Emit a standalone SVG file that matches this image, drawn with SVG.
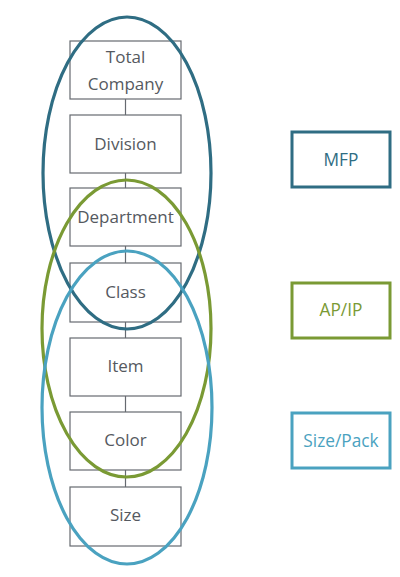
<svg xmlns="http://www.w3.org/2000/svg" width="400" height="577" viewBox="0 0 400 577">
<style>
.box{fill:#fff;stroke:#666a70;stroke-width:1.2}
.lbl{font-family:"Open Sans","Noto Sans",sans-serif;font-size:17px;fill:#555960;text-anchor:middle}
.conn{stroke:#666a70;stroke-width:1.2;fill:none}
.ell{fill:none;stroke-width:3.2}
.tag{fill:#fff;stroke-width:3}
.tagt{font-family:"Open Sans","Noto Sans",sans-serif;font-size:17.3px;text-anchor:middle}
</style>
<rect width="400" height="577" fill="#fff"/>
<g id="connectors">
<line class="conn" x1="125.5" y1="99" x2="125.5" y2="115"/>
<line class="conn" x1="125.5" y1="173" x2="125.5" y2="188"/>
<line class="conn" x1="125.5" y1="246" x2="125.5" y2="263"/>
<line class="conn" x1="125.5" y1="322" x2="125.5" y2="338"/>
<line class="conn" x1="125.5" y1="396" x2="125.5" y2="412"/>
<line class="conn" x1="125.5" y1="470" x2="125.5" y2="487"/>
</g>
<g id="total-company"><rect class="box" x="70" y="41" width="111" height="58"/><text class="lbl" x="125.5" y="63">Total</text><text class="lbl" x="125.5" y="90">Company</text></g>
<g id="division"><rect class="box" x="70" y="115" width="111" height="58"/><text class="lbl" x="125.5" y="150">Division</text></g>
<g id="department"><rect class="box" x="70" y="188" width="111" height="58"/><text class="lbl" x="125.5" y="223">Department</text></g>
<g id="class"><rect class="box" x="70" y="263" width="111" height="59"/><text class="lbl" x="125.5" y="298">Class</text></g>
<g id="item"><rect class="box" x="70" y="338" width="111" height="58"/><text class="lbl" x="125.5" y="372">Item</text></g>
<g id="color"><rect class="box" x="70" y="412" width="111" height="58"/><text class="lbl" x="125.5" y="446">Color</text></g>
<g id="size"><rect class="box" x="70" y="487" width="111" height="59"/><text class="lbl" x="125.5" y="521">Size</text></g>
<g id="mfp-ellipse"><ellipse class="ell" cx="127" cy="173" rx="84" ry="156" stroke="#2f6d83"/></g>
<g id="apip-ellipse"><ellipse class="ell" cx="126.5" cy="328.5" rx="84.5" ry="148.5" stroke="#7a9a34"/></g>
<g id="sizepack-ellipse"><ellipse class="ell" cx="127" cy="407.5" rx="85" ry="156.5" stroke="#4aa2c0"/></g>
<g id="mfp"><rect class="tag" x="292" y="132" width="98" height="55" stroke="#2f6d83"/><text class="tagt" x="341" y="166" fill="#2f6d83">MFP</text></g>
<g id="apip"><rect class="tag" x="292" y="283" width="98" height="55" stroke="#7a9a34"/><text class="tagt" x="341" y="316" fill="#7a9a34">AP/IP</text></g>
<g id="sizepack"><rect class="tag" x="292" y="413" width="98" height="55" stroke="#4aa2c0"/><text class="tagt" x="341" y="447" fill="#4aa2c0">Size/Pack</text></g>
</svg>
